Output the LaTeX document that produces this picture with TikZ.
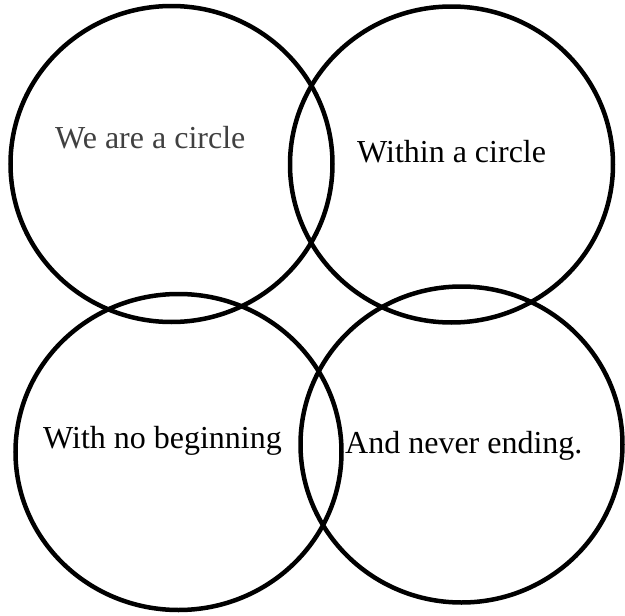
\documentclass[tikz,border=0pt]{standalone}
\usepackage{fontspec}
\setmainfont{Liberation Serif}
\usepackage{xcolor}
\usetikzlibrary{shapes.geometric}
\definecolor{softgray}{HTML}{404040}

\begin{document}
\begin{tikzpicture}[
    x=1pt, y=-1pt,
    ring/.style={draw, ellipse, line width=4.5pt, inner sep=0pt, minimum width=322pt, minimum height=316pt},
    verse/.style={anchor=base west, inner sep=0pt, font=\fontsize{32}{32}\selectfont},
  ]
    \useasboundingbox (0,0) rectangle (625,616);
    % ── Circles ──
    \node[ring] (c-tl) at (171.5,164) {};
    \node[ring, minimum width=323pt] (c-tr) at (451.5,164.5) {};
    \node[ring, minimum width=326pt] (c-bl) at (178.5,452) {};
    \node[ring] (c-br) at (461.5,444.5) {};
    % Texts
    \node[verse, text=softgray] (t-tl) at (55,148) {We are a circle};
    \node[verse] (t-tr) at (357,162) {Within a circle};
    \node[verse] (t-bl) at (43,448) {With no beginning};
    \node[verse] (t-br) at (345,453) {And never ending.};
\end{tikzpicture}
\end{document}
